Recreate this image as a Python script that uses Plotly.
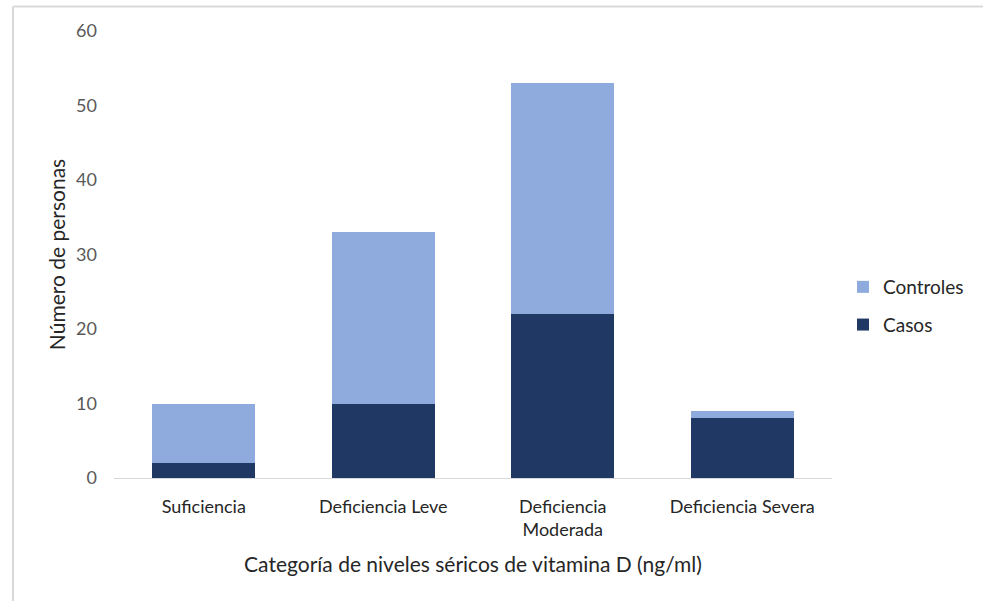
import plotly.graph_objects as go

categories = ["Suficiencia", "Deficiencia Leve", "Deficiencia<br>Moderada", "Deficiencia Severa"]
casos = [2, 10, 22, 8]
controles = [8, 23, 31, 1]
y_ticks = [0, 10, 20, 30, 40, 50, 60]

FONT = "Lato"
GRAY = "#595959"
DARK = "#262626"

fig = go.Figure()
fig.add_trace(go.Bar(x=categories, y=casos, name="Casos", legendgroup="a", legendrank=2,
                     marker=dict(color="#203864", line=dict(width=0))))
fig.add_trace(go.Bar(x=categories, y=controles, name="Controles", legendgroup="b", legendrank=1,
                     marker=dict(color="#8FAADC", line=dict(width=0))))

L, R, T, B = 114, 151, 31, 123
W, H = 983, 601
pw, ph = W - L - R, H - T - B

def px(x):
    return (x - L) / pw

def py(y):
    return (H - B - y) / ph

fig.update_layout(
    width=W, height=H,
    barmode="stack", bargap=0.426,
    margin=dict(l=L, r=R, t=T, b=B, autoexpand=False),
    plot_bgcolor="white", paper_bgcolor="white",
    font=dict(family=FONT, size=18, color=GRAY),
    showlegend=True,
    legend=dict(x=px(843), y=py(268), xanchor="left", yanchor="top", traceorder="grouped",
                font=dict(family=FONT, size=19, color=DARK), itemwidth=30,
                tracegroupgap=10, bgcolor="rgba(0,0,0,0)"),
    xaxis=dict(showgrid=False, showline=True, linecolor="#D9D9D9", linewidth=1,
               ticks="", ticklabelstandoff=12, tickfont=dict(family=FONT, size=18, color=DARK),
               title=dict(text="Categoría de niveles séricos de vitamina D (ng/ml)",
                          font=dict(family=FONT, size=21, color=DARK), standoff=18)),
    yaxis=dict(range=[0, 60], tickvals=y_ticks, showgrid=False, showline=False, zeroline=False,
               ticks="", ticklabelstandoff=16, tickfont=dict(family=FONT, size=18, color=GRAY),
               title=dict(text="Número de personas", font=dict(family=FONT, size=21, color=DARK),
                          standoff=4)),
    shapes=[
        dict(type="line", xref="paper", yref="paper", x0=px(13), x1=px(13), y0=py(601), y1=py(6.5),
             line=dict(color="#D9D9D9", width=2)),
        dict(type="line", xref="paper", yref="paper", x0=px(13), x1=px(983), y0=py(6.5), y1=py(6.5),
             line=dict(color="#D9D9D9", width=2)),
    ],
)

fig.write_html("out.html", config={"displayModeBar": False},
               post_script="document.body.style.margin='0';")
